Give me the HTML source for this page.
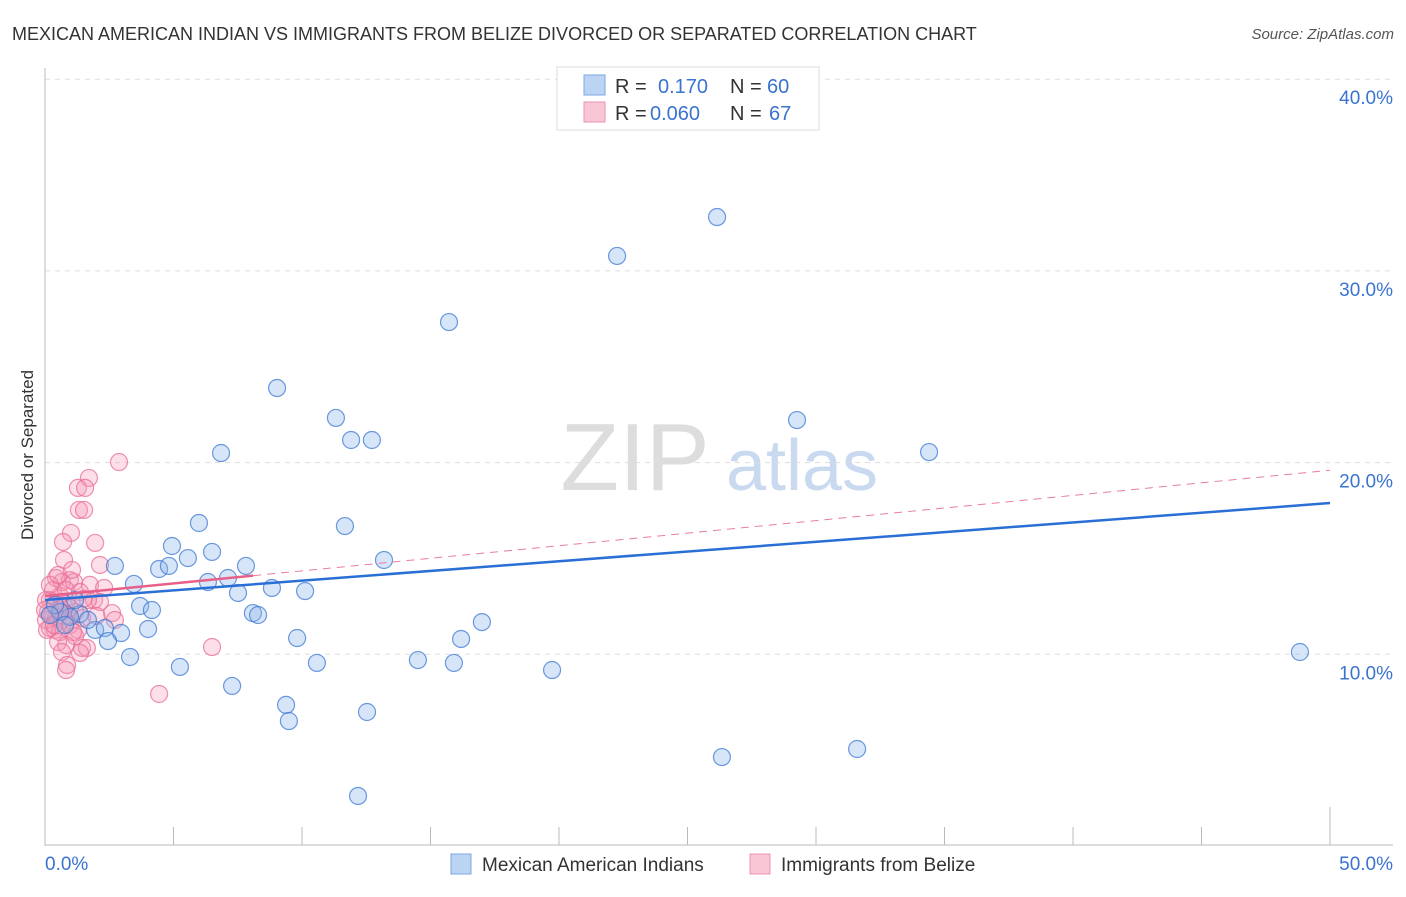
<!DOCTYPE html>
<html><head><meta charset="utf-8"><style>
body{margin:0;background:#fff;font-family:"Liberation Sans",sans-serif;}
svg text{font-family:"Liberation Sans",sans-serif;}
</style></head><body>
<svg id="chart" width="1406" height="892" xmlns="http://www.w3.org/2000/svg">
<text x="12" y="40" font-size="18" fill="#333">MEXICAN AMERICAN INDIAN VS IMMIGRANTS FROM BELIZE DIVORCED OR SEPARATED CORRELATION CHART</text>
<text x="1394" y="39" font-size="15" fill="#555" text-anchor="end" font-style="italic">Source: ZipAtlas.com</text>
<text transform="translate(33,455) rotate(-90)" font-size="17" fill="#333" text-anchor="middle">Divorced or Separated</text>
<g>
<text x="635" y="490" font-size="96" fill="#ddd" font-family="Liberation Serif" text-anchor="middle">ZIP</text>
<text x="802" y="490" font-size="72" fill="#c9d9f0" text-anchor="middle">atlas</text>
</g>
<g id="grid"></g>
<g id="axes"></g>
<g id="marks"></g>
<g>
<rect x="557" y="67" width="262" height="63" fill="#fff" stroke="#ddd"/>
<rect x="584" y="75" width="21" height="20" fill="#bcd4f4" stroke="#7aa7e6"/>
<rect x="584" y="102" width="21" height="20" fill="#f9c6d6" stroke="#ef93b0"/>
<text x="615" y="93" font-size="20" fill="#333">R = </text><text x="658" y="93" font-size="20" fill="#3a73d0">0.170</text>
<text x="730" y="93" font-size="20" fill="#333">N = </text><text x="767" y="93" font-size="20" fill="#3a73d0">60</text>
<text x="615" y="120" font-size="20" fill="#333">R = </text><text x="650" y="120" font-size="20" fill="#3a73d0">0.060</text>
<text x="730" y="120" font-size="20" fill="#333">N = </text><text x="769" y="120" font-size="20" fill="#3a73d0">67</text>
</g>
<g>
<rect x="451" y="854" width="20" height="20" fill="#bcd4f4" stroke="#7aa7e6"/>
<text x="482" y="871" font-size="19" fill="#333">Mexican American Indians</text>
<rect x="750" y="854" width="20" height="20" fill="#f9c6d6" stroke="#ef93b0"/>
<text x="781" y="871" font-size="19" fill="#333">Immigrants from Belize</text>
</g>
</svg>
<script>
const yTicks=[10,20,30,40];
const yTickLabels=["10.0%","20.0%","30.0%","40.0%"];
const xTickLabels=["0.0%","50.0%"];
const blueX=[26.15,22.26,15.72,9.03,11.32,29.26,11.91,12.72,6.85,34.40,5.99,11.67,4.94,5.56,6.50,13.19,2.72,4.44,4.82,7.82,3.46,6.34,7.12,7.51,8.83,10.12,3.70,4.16,8.09,8.29,1.36,0.97,1.95,2.33,2.96,4.01,2.45,9.81,16.19,17.00,3.31,5.25,10.58,14.51,15.91,19.73,7.28,48.83,9.38,9.49,12.53,31.60,26.34,12.18,0.58,0.39,0.78,1.67,1.17,0.19];
const blueY=[32.81,30.78,27.33,23.89,22.33,22.22,21.18,21.18,20.50,20.55,16.85,16.69,15.65,15.02,15.34,14.92,14.61,14.45,14.61,14.61,13.67,13.77,13.98,13.20,13.46,13.30,12.52,12.31,12.15,12.05,12.10,11.95,11.27,11.37,11.11,11.32,10.69,10.85,10.80,11.68,9.86,9.34,9.55,9.70,9.55,9.18,8.35,10.12,7.36,6.52,6.99,5.06,4.64,2.61,12.21,12.57,11.53,11.79,12.83,12.05];
const pinkX=[2.88,1.71,1.28,1.56,1.32,1.52,1.01,1.95,0.70,0.74,2.14,0.43,0.66,0.97,1.13,1.75,2.30,0.31,0.58,0.82,1.36,1.91,2.14,0.19,0.39,0.51,0.74,0.12,0.27,0.43,0.66,0.89,1.17,1.44,2.61,2.72,0.19,0.39,0.58,0.97,1.28,1.17,1.09,0.51,0.82,1.44,1.63,0.66,1.36,0.86,0.82,6.50,4.44,0.04,0.04,0.19,0.51,1.05,1.67,0,0.08,0.82,0.97,0.35,0.66,2.0,1.5];
const pinkY=[20.03,19.20,18.68,18.68,17.53,17.53,16.33,15.81,15.86,14.92,14.66,13.98,13.77,13.87,13.77,13.62,13.46,13.35,13.04,13.35,13.25,12.83,12.73,12.83,12.62,12.31,12.52,12.21,12.05,11.89,11.79,12.05,12.21,11.89,12.15,11.79,11.37,11.27,11.16,11.53,11.27,10.95,11.16,10.64,10.48,10.33,10.33,10.12,10.07,9.44,9.18,10.38,7.93,12.83,11.79,13.62,14.14,14.40,12.83,12.31,11.27,12.62,12.42,11.53,12.21,12.0,12.9];
const blueTrend=[12.83,17.89];
const pinkTrend=[13.04,19.6];
const pinkSolidEnd=8.1;
const NS="http://www.w3.org/2000/svg";
const xs=v=>45+v*25.7;
const ys=v=>846-v*19.17;
function mk(tag,attrs,parent){const e=document.createElementNS(NS,tag);for(const k in attrs)e.setAttribute(k,attrs[k]);parent.appendChild(e);return e;}
const grid=document.getElementById('grid'),axes=document.getElementById('axes'),marks=document.getElementById('marks');
yTicks.forEach((t,i)=>{
 const l=mk('line',{x1:45,x2:1393,y1:ys(t),y2:ys(t),stroke:'#ddd','stroke-dasharray':'5,5'},grid);
 
 
 const tx=mk('text',{x:1393,y:ys(t)+25,'font-size':19,fill:'#3a73d0','text-anchor':'end'},grid);
 tx.textContent=yTickLabels[i];
 
 
});
const ya=mk('line',{x1:45,x2:45,y1:68,y2:846,stroke:'#bbb'},axes);


const xa=mk('line',{x1:45,x2:1393,y1:845,y2:845,stroke:'#bbb'},axes);


for(let i=1;i<=10;i++){
 const x=xs(i*5);
 const tk=mk('line',{x1:x,x2:x,y1:i==10?807:827,y2:845,stroke:'#bbb'},axes);
 
 
}
const xl0=mk('text',{x:45,y:870,'font-size':19,fill:'#3a73d0'},axes);xl0.textContent=xTickLabels[0];


const xl1=mk('text',{x:1393,y:870,'font-size':19,fill:'#3a73d0','text-anchor':'end'},axes);xl1.textContent=xTickLabels[1];


pinkX.forEach((v,i)=>{
 const c=mk('circle',{cx:xs(v),cy:ys(pinkY[i]),r:8.5,fill:'rgba(244,150,180,0.3)',stroke:'rgba(232,110,150,0.75)','stroke-width':1.2},marks);
 
 
});
blueX.forEach((v,i)=>{
 const c=mk('circle',{cx:xs(v),cy:ys(blueY[i]),r:8.5,fill:'rgba(140,180,235,0.35)',stroke:'rgba(60,120,210,0.75)','stroke-width':1.2},marks);
 
 
});
const pinkAt=x=>pinkTrend[0]+(pinkTrend[1]-pinkTrend[0])*x/50;
const pd=mk('line',{x1:xs(pinkSolidEnd),y1:ys(pinkAt(pinkSolidEnd)),x2:xs(50),y2:ys(pinkTrend[1]),stroke:'#e87da0','stroke-width':1,'stroke-dasharray':'8,6'},marks);


const bt=mk('line',{x1:xs(0),y1:ys(blueTrend[0]),x2:xs(50),y2:ys(blueTrend[1]),stroke:'#2a6fd6','stroke-width':2.5},marks);


const ps=mk('line',{x1:xs(0),y1:ys(pinkTrend[0]),x2:xs(pinkSolidEnd),y2:ys(pinkAt(pinkSolidEnd)),stroke:'#e8608a','stroke-width':2.5},marks);


</script>
</body></html>
